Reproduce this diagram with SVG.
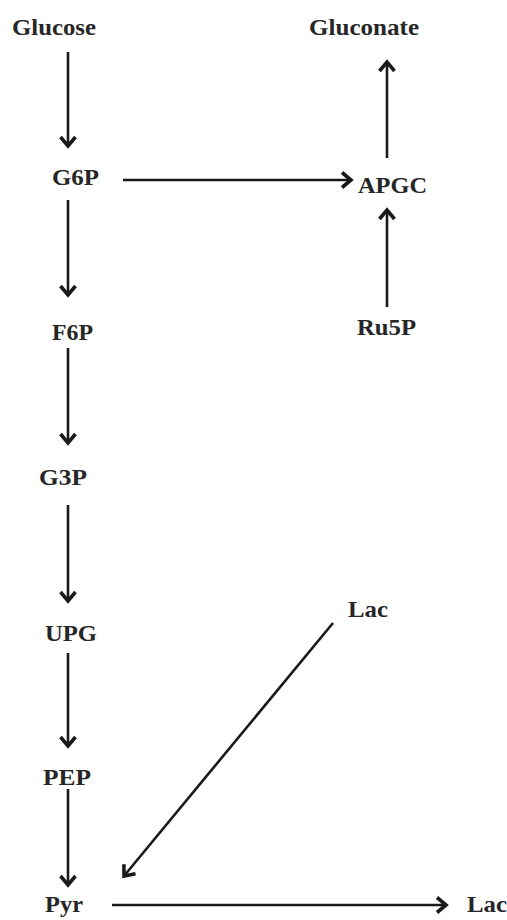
<svg xmlns="http://www.w3.org/2000/svg" width="507" height="920" viewBox="0 0 507 920">
  <style>
    .lbl { font-family: "Liberation Serif", "Times New Roman", serif; font-weight: bold; font-size: 24px; fill: #262626; }
    .edge { stroke: #1a1a1a; stroke-width: 2.6; fill: none; marker-end: url(#head); }
  </style>
  <defs>
    <marker id="head" markerUnits="userSpaceOnUse" markerWidth="22" markerHeight="22" refX="0" refY="0" viewBox="-13 -11 16 22" orient="auto">
      <path d="M-9,-7.5 L0,0 L-9,7.5" fill="none" stroke="#1a1a1a" stroke-width="3.6" stroke-linejoin="miter"/>
    </marker>
  </defs>
  <rect width="507" height="920" fill="#ffffff"/>

  <g id="connectors">
    <line class="edge" x1="68" y1="52" x2="68" y2="146"/>
    <line class="edge" x1="123" y1="180" x2="351" y2="180"/>
    <line class="edge" x1="387" y1="158" x2="387" y2="62"/>
    <line class="edge" x1="387" y1="307" x2="387" y2="210"/>
    <line class="edge" x1="68" y1="200" x2="68" y2="295"/>
    <line class="edge" x1="68" y1="348" x2="68" y2="443"/>
    <line class="edge" x1="68" y1="505" x2="68" y2="601"/>
    <line class="edge" x1="68" y1="653" x2="68" y2="746"/>
    <line class="edge" x1="68" y1="789" x2="68" y2="885"/>
    <line class="edge" x1="333" y1="623" x2="124" y2="876"/>
    <line class="edge" x1="112" y1="905" x2="446" y2="905"/>
  </g>

  <g id="glucose"><text class="lbl" x="12" y="35" textLength="84" lengthAdjust="spacingAndGlyphs">Glucose</text></g>
  <g id="gluconate"><text class="lbl" x="309" y="35" textLength="110" lengthAdjust="spacingAndGlyphs">Gluconate</text></g>
  <g id="g6p"><text class="lbl" x="52" y="185" textLength="47" lengthAdjust="spacingAndGlyphs">G6P</text></g>
  <g id="apgc"><text class="lbl" x="358" y="193" textLength="69" lengthAdjust="spacingAndGlyphs">APGC</text></g>
  <g id="f6p"><text class="lbl" x="52" y="340" textLength="41" lengthAdjust="spacingAndGlyphs">F6P</text></g>
  <g id="ru5p"><text class="lbl" x="357" y="335" textLength="59" lengthAdjust="spacingAndGlyphs">Ru5P</text></g>
  <g id="g3p"><text class="lbl" x="39" y="485" textLength="48" lengthAdjust="spacingAndGlyphs">G3P</text></g>
  <g id="upg"><text class="lbl" x="45" y="641" textLength="52" lengthAdjust="spacingAndGlyphs">UPG</text></g>
  <g id="lac-in"><text class="lbl" x="348" y="617" textLength="40" lengthAdjust="spacingAndGlyphs">Lac</text></g>
  <g id="pep"><text class="lbl" x="43" y="785" textLength="48" lengthAdjust="spacingAndGlyphs">PEP</text></g>
  <g id="pyr"><text class="lbl" x="45" y="912" textLength="38" lengthAdjust="spacingAndGlyphs">Pyr</text></g>
  <g id="lac-out"><text class="lbl" x="467" y="912" textLength="40" lengthAdjust="spacingAndGlyphs">Lac</text></g>
</svg>
